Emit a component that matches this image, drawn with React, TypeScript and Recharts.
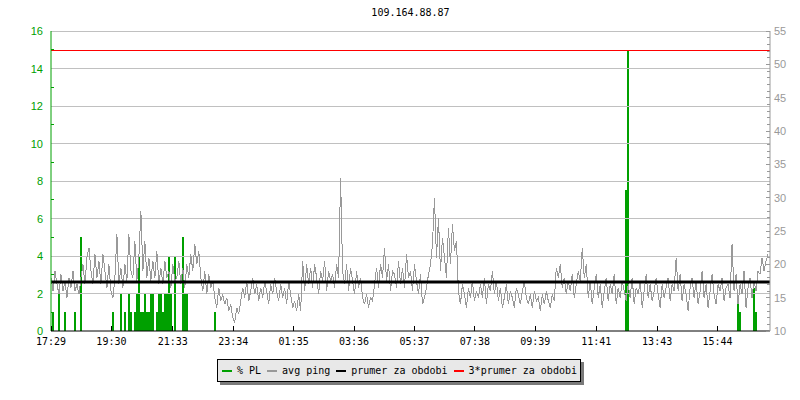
import { ComposedChart, Line, Bar, XAxis, YAxis, ReferenceLine } from 'recharts'

const title = '109.164.88.87'
const startTime = '17:29'
const stepMinutes = 4
const timeLabels = ['17:29', '19:30', '21:33', '23:34', '01:35', '03:36', '05:37', '07:38', '09:39', '11:41', '13:43', '15:44']

// avg ping in ms, one value every 4 minutes
const pingEvening = [
  18, 16, 19, 17, 15.5, 18.5, 16, 17.5, 15, 18, 16.5, 19, 16, 17, 15.5,
  18, 20, 17, 21, 22.5, 19, 17, 21.5, 18, 20.5, 17, 21.5, 19, 16.5, 20,
  16, 15, 18, 24.5, 17, 19.5, 16.5, 20, 17.5, 24.5, 19,
  18, 23.5, 17.5, 21, 28, 19,
  23.5, 18, 21, 17.5, 20.5, 18, 22, 17,
  19.5, 17, 20.5, 18, 19, 16.5, 20, 17.5,
  18, 20.5, 17, 19.5, 16.5, 20, 18, 21.5, 19, 23, 20, 22,
  18, 16, 19, 15.5, 18.5, 16.5, 17.5,
  15, 13.5, 16.5, 14.5, 15.5, 14,
  15, 13,
]
const pingNight = [
  14, 12, 11.3, 13.5, 12.5, 14.5,
  16.5, 15, 17.5, 14.5, 16, 18, 15.5, 17, 14.5, 16.5, 15, 17.5, 16, 14, 17,
  15.5, 18, 16, 14.5, 17, 15, 16.5, 14, 17.5, 15.5, 13.5, 14.5, 13, 15.5,
  13, 20.5, 16, 20,
  17, 19.5, 16.5, 20, 18, 15.5, 19, 17.5, 20.5, 16, 19, 17.5, 18.5, 16.5, 20, 18,
  33, 19,
  17, 20, 16, 19.5, 17.5, 15.5, 19, 16.5, 18, 15,
  14, 15.5, 13.5, 15, 14.5,
  17, 19.5, 16.5, 20, 18, 22.5, 17.5, 20, 16, 19, 18.5, 16.5, 20.5, 17, 19.5, 16.5, 21.5, 18,
]
const pingMorning = [
  19, 16, 20, 17.5, 15.5, 18.5,
  14, 15, 16.5,
  18.5, 20, 23, 30, 21, 27, 19, 24, 21, 18, 25.5, 20, 26, 22, 23.5,
  16, 14, 17, 15.5, 13.5, 16.5, 15, 17.5, 14.5, 16, 15, 17,
  15, 18, 14, 17, 16, 19, 15.5, 17.5,
  14.5, 16.5, 13.5, 15, 17, 14, 16, 15, 13.5, 16.5, 15.5, 14, 16, 17.5, 15,
  14, 15.5, 13.5, 16, 14.5, 15, 13, 15.5, 14, 16, 14.5, 13.5, 15.5, 14.5,
  19.5, 18, 20,
  16.5, 18, 15.5, 17.5, 16, 18.5, 15, 17,
  19, 17.5, 22.5, 18, 20,
  15,
]
const pingAfternoon = [
  17.5, 14, 16.5, 18.5, 15, 17, 13.5, 16, 18, 14.5, 17, 15.5, 18.5, 14, 16.5, 15, 17.5, 16, 14.5,
  17, 15, 18, 14, 16.5, 15.5, 17.5, 13.5, 16, 18.5, 15, 17, 14.5, 16, 18, 15.5, 13.5, 17, 15, 16.5, 18, 14.5, 17, 16, 21,
  16, 18.5, 14.5, 17, 15.5, 13, 16.5, 18, 15, 17.5, 14, 16, 19, 15, 17, 13.5, 16, 18.5, 15.5, 14, 17, 16, 18, 14.5, 16.5,
  17, 15, 23, 16, 18.5, 14, 17, 15.5, 19, 13.5, 16.5, 18, 15, 17.5, 16, 19,
  18.5, 21, 19, 20.5, 21.5,
]

// packet loss (%) : sample index and value
const plSamples = [1, 4, 7, 12, 15, 31, 35, 37, 39, 40, 42, 43, 44, 45, 46, 47, 48, 49, 50, 51, 53, 54, 55, 56, 57, 58, 59, 60, 62, 66, 67, 68, 82, 288, 289, 344, 345, 352, 353]
const plValues = [1, 2, 1, 1, 5, 1, 2, 1, 2, 1, 1, 2, 4, 1, 1, 2, 1, 1, 2, 2, 1, 2, 2, 1, 2, 2, 4, 2, 4, 5, 2, 2, 1, 7.5, 15, 1.5, 1, 2.3, 1]

const avgPing = 17.35
const plTicks = Array.from({ length: 17 }, (_, i) => i)
const plGrid = [2, 4, 6, 8, 10, 12, 14, 16]
const pingTicks = Array.from({ length: 46 }, (_, i) => i + 10)

const GREEN = '#00a000'
const GREY = '#999999'
const LEFT = 51
const RIGHT = 770
const BOTTOM = 331
const MONO = 'DejaVu Sans Mono, monospace'
const SANS = 'Liberation Sans, Arial, sans-serif'

const toMin = (s: string) => {
  const [h, m] = s.split(':').map(Number)
  return h * 60 + m
}
const tickMinutes = timeLabels.map((l) => (toMin(l) - toMin(startTime) + 1440) % 1440)

const ping = [...pingEvening, ...pingNight, ...pingMorning, ...pingAfternoon]
const data = ping.map((v, i) => {
  const k = plSamples.indexOf(i)
  return { t: i * stepMinutes, ping: v, pl: k >= 0 ? plValues[k] : 0 }
})

function PlTick({ y, payload }: any) {
  const v = payload.value
  if (v % 2 !== 0) {
    return <line x1={LEFT} x2={LEFT + 3} y1={y} y2={y} stroke={GREEN} shapeRendering="crispEdges" />
  }
  return (
    <text x={LEFT - 8} y={y} textAnchor="end" dominantBaseline="central" fill={GREEN} fontSize={11} fontFamily={SANS}>
      {v}
    </text>
  )
}

function PingTick({ y, payload }: any) {
  const v = payload.value
  const major = v % 5 === 0
  return (
    <g>
      <line x1={RIGHT - (major ? 4 : 3)} x2={RIGHT} y1={y} y2={y} stroke={GREY} shapeRendering="crispEdges" />
      {major && (
        <text x={RIGHT + 4} y={y} dominantBaseline="central" fill={GREY} fontSize={11} fontFamily={SANS}>
          {v}
        </text>
      )}
    </g>
  )
}

function TimeTick({ x, payload }: any) {
  const label = timeLabels[tickMinutes.indexOf(payload.value)]
  return (
    <g>
      <line x1={x} x2={x} y1={BOTTOM} y2={BOTTOM - 5} stroke="#000" shapeRendering="crispEdges" />
      <text x={x} y={341} textAnchor="middle" dominantBaseline="central" fill="#000" fontSize={10} fontFamily={MONO}>
        {label}
      </text>
    </g>
  )
}

const legendItems = [
  { name: '% PL', color: GREEN },
  { name: 'avg ping', color: GREY },
  { name: 'prumer za obdobi', color: '#000' },
  { name: '3*prumer za obdobi', color: '#ff0000' },
]

export default function App() {
  return (
    <div style={{ position: 'absolute', left: 0, top: 0, width: 800, height: 400, background: '#fff' }}>
      <div
        style={{
          position: 'absolute', left: LEFT, top: 7, width: RIGHT - LEFT, textAlign: 'center',
          fontFamily: MONO, fontSize: 10, lineHeight: '12px', color: '#000',
        }}
      >
        {title}
      </div>
      <ComposedChart width={800} height={400} data={data} margin={{ top: 31, right: 0, bottom: 49, left: 0 }}>
        {plGrid.map((v) => (
          <ReferenceLine key={v} yAxisId="pl" y={v} stroke="#c0c0c0" shapeRendering="crispEdges" />
        ))}
        <XAxis
          dataKey="t" type="number" domain={[0, 1440]} ticks={tickMinutes} interval={0}
          tick={TimeTick} tickLine={false} axisLine={{ stroke: '#000' }} height={20}
        />
        <YAxis
          yAxisId="pl" domain={[0, 16]} ticks={plTicks} interval={0} tick={PlTick}
          tickLine={false} axisLine={{ stroke: GREEN }} width={LEFT}
        />
        <YAxis
          yAxisId="ping" orientation="right" domain={[10, 55]} ticks={pingTicks} interval={0}
          tick={PingTick} tickLine={false} axisLine={{ stroke: GREY }} width={30}
        />
        <Line
          yAxisId="ping" dataKey="ping" type="linear" stroke={GREY} strokeWidth={1} dot={false}
          shapeRendering="crispEdges" isAnimationActive={false}
        />
        <Bar yAxisId="pl" dataKey="pl" fill={GREEN} barSize={2} shapeRendering="crispEdges" isAnimationActive={false} />
        <ReferenceLine yAxisId="ping" y={avgPing} stroke="#000" strokeWidth={3} />
        <ReferenceLine yAxisId="ping" y={avgPing * 3} stroke="#ff0000" shapeRendering="crispEdges" />
      </ComposedChart>
      <div
        style={{
          position: 'absolute', left: 217, top: 359, width: 364, height: 23, boxSizing: 'border-box',
          border: '1px solid #000', background: '#e8e8e8', boxShadow: '3px 3px 0 #7a7a7a',
          display: 'flex', alignItems: 'center', paddingLeft: 4,
          fontFamily: MONO, fontSize: 10, color: '#000', whiteSpace: 'nowrap',
        }}
      >
        {legendItems.map((it) => (
          <span key={it.name} style={{ display: 'flex', alignItems: 'center', marginRight: 6 }}>
            <span style={{ display: 'inline-block', width: 10, height: 2, background: it.color, marginRight: 5 }} />
            {it.name}
          </span>
        ))}
      </div>
    </div>
  )
}
